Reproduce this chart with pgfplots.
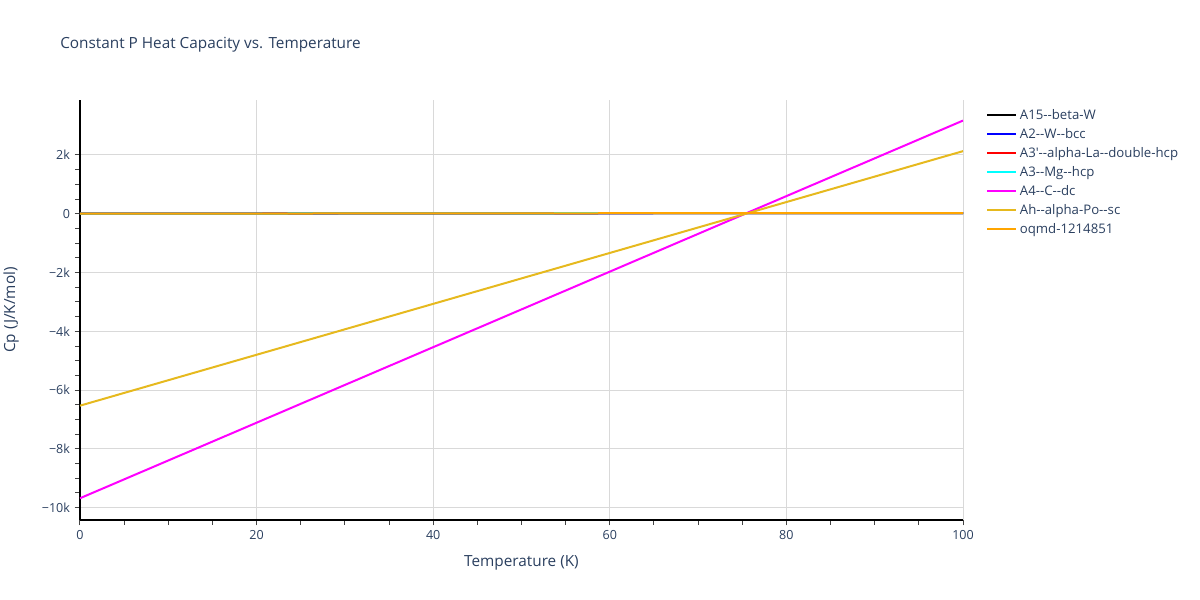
\documentclass[border=0pt]{standalone}
\usepackage{fontspec}
\setmainfont{Open Sans}[Ligatures=TeXOff]
\usepackage{pgfplots}
\pgfplotsset{compat=1.18}
\definecolor{txt}{HTML}{2A3F5F}
\definecolor{gridc}{HTML}{D9D9D9}
\definecolor{ahc}{HTML}{E6B91E}
\definecolor{oqc}{HTML}{FFA500}
\definecolor{magc}{HTML}{FF00FF}
\definecolor{cyc}{HTML}{00FFFF}
\definecolor{tickc}{HTML}{444444}
\begin{document}
\begin{tikzpicture}
\path[use as bounding box] (0,0) rectangle (900pt,450pt);
\node[anchor=west, inner sep=0pt, text=txt, font=\fontsize{11.5pt}{14pt}\selectfont] at (45pt,416.25pt) {Constant P Heat Capacity vs. Temperature};
\begin{axis}[
  at={(60pt,60pt)}, anchor=south west,
  scale only axis, width=662.25pt, height=315pt,
  xmin=0, xmax=100, ymin=-10420, ymax=3870,
  xtick={0,20,...,100}, minor x tick num=3,
  ytick={-10000,-8000,...,2000}, minor y tick num=3,
  yticklabels={−10k,−8k,−6k,−4k,−2k,0,2k},
  scaled y ticks=false,
  /pgf/number format/assume math mode=true,
  tick label style={font=\fontsize{9.4pt}{10pt}\selectfont, text=txt},
  axis x line*=bottom, axis y line*=left,
  axis line style={black, line width=0.8pt, -},
  tick align=outside, tick style={tickc, line width=0.75pt},
  major tick length=4pt, minor tick length=3.5pt,
  xmajorgrids, ymajorgrids,
  major grid style={gridc, line width=0.75pt},
  xlabel={Temperature (K)}, ylabel={Cp (J/K/mol)},
  label style={font=\fontsize{11.5pt}{12pt}\selectfont, text=txt},
  xlabel style={at={(axis description cs:0.5,-0.1024)}, anchor=center},
  ylabel style={at={(axis description cs:-0.078,0.5)}, anchor=center},
  legend style={at={(1.026,0.985)}, anchor=north west, draw=none, fill=none,
    font=\fontsize{9.9pt}{10pt}\selectfont, text=txt, row sep=1.2pt,
    inner sep=0pt, /tikz/every even column/.append style={column sep=0pt}},
  legend cell align=left,
  legend image code/.code={\draw[#1, line width=1.5pt] (0pt,0pt) -- (21.75pt,0pt);},
  clip=true,
]
\addplot[black, line width=1.5pt] coordinates {(0,0) (20,6) (40,13) (60,17) (80,20) (100,22)};
\addlegendentry{A15--beta-W}
\addplot[blue, line width=1.5pt] coordinates {(0,0) (20,5) (40,12) (60,16) (80,19) (100,21)};
\addlegendentry{A2--W--bcc}
\addplot[red, line width=1.5pt] coordinates {(0,0) (20,8) (40,15) (60,19) (80,21) (100,23)};
\addlegendentry{A3'--alpha-La--double-hcp}
\addplot[cyc, line width=1.5pt] coordinates {(0,0) (20,7) (40,14) (60,18) (80,20) (100,22)};
\addlegendentry{A3--Mg--hcp}
\addplot[magc, line width=1.5pt] coordinates {(0,-9680) (100,3170)};
\addlegendentry{A4--C--dc}
\addplot[ahc, line width=1.5pt] coordinates {(0,-6530) (100,2130)};
\addlegendentry{Ah--alpha-Po--sc}
\addplot[oqc, line width=1.5pt] coordinates {(0,0) (20,6) (40,13) (60,17) (80,20) (100,22)};
\addlegendentry{oqmd-1214851}
\end{axis}
\end{tikzpicture}
\end{document}
